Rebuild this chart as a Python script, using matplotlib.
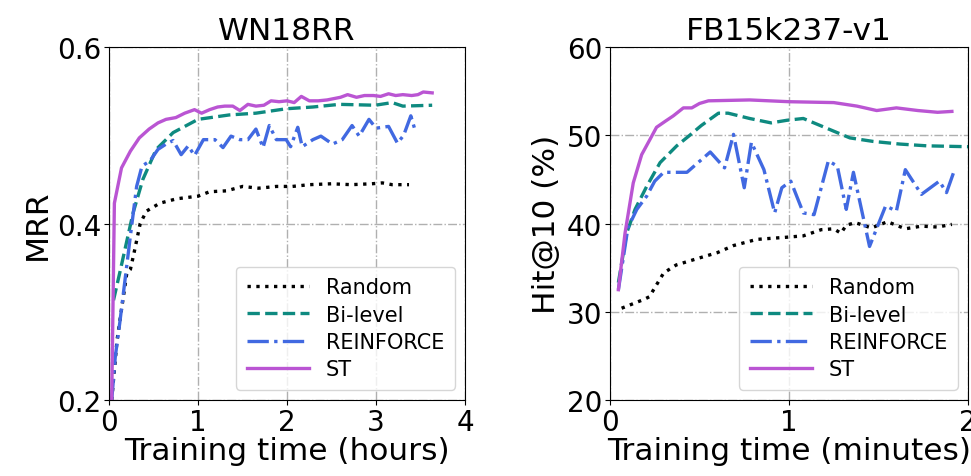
import matplotlib
matplotlib.use("Agg")
import matplotlib.pyplot as plt

# ---------------- WN18RR (hours, MRR) ----------------
wn_random_x = [0.03, 0.09, 0.20, 0.24, 0.29, 0.35, 0.42, 0.57, 0.76, 1.00, 1.13, 1.32, 1.50,
               1.68, 1.88, 2.06, 2.25, 2.50, 2.72, 2.95, 3.07, 3.18, 3.37]
wn_random_y = [0.20, 0.268, 0.344, 0.348, 0.371, 0.400, 0.414, 0.423, 0.428, 0.431, 0.436, 0.437,
               0.442, 0.440, 0.442, 0.442, 0.444, 0.445, 0.444, 0.445, 0.446, 0.444, 0.444]

wn_bilevel_x = [0.05, 0.12, 0.27, 0.38, 0.53, 0.72, 1.00, 1.35, 1.65, 1.99, 2.29, 2.59, 2.99,
                3.18, 3.30, 3.63]
wn_bilevel_y = [0.313, 0.344, 0.412, 0.450, 0.484, 0.503, 0.518, 0.523, 0.525, 0.530, 0.532,
                0.535, 0.534, 0.537, 0.533, 0.534]

wn_reinforce_x = [0.03, 0.07, 0.12, 0.235, 0.31, 0.37, 0.46, 0.55, 0.64, 0.72, 0.81, 0.89, 0.96,
                  1.06, 1.19, 1.28, 1.37, 1.47, 1.56, 1.65, 1.73, 1.80, 1.88, 1.99, 2.04, 2.12,
                  2.17, 2.29, 2.38, 2.51, 2.62, 2.73, 2.81, 2.92, 3.00, 3.14, 3.24, 3.31, 3.39, 3.44]
wn_reinforce_y = [0.20, 0.249, 0.287, 0.382, 0.442, 0.465, 0.471, 0.484, 0.490, 0.494, 0.478,
                  0.488, 0.477, 0.495, 0.495, 0.486, 0.499, 0.495, 0.495, 0.507, 0.486, 0.511,
                  0.495, 0.495, 0.487, 0.509, 0.487, 0.495, 0.499, 0.490, 0.495, 0.511, 0.499,
                  0.518, 0.508, 0.510, 0.491, 0.500, 0.522, 0.505]

wn_st_x = [0.03, 0.06, 0.14, 0.24, 0.34, 0.45, 0.55, 0.64, 0.75, 0.85, 0.96, 1.04, 1.13, 1.22,
           1.30, 1.39, 1.47, 1.56, 1.65, 1.74, 1.82, 1.91, 2.00, 2.08, 2.16, 2.25, 2.35, 2.45,
           2.55, 2.60, 2.68, 2.78, 2.87, 2.97, 3.05, 3.14, 3.22, 3.30, 3.40, 3.47, 3.53, 3.63]
wn_st_y = [0.20, 0.423, 0.463, 0.482, 0.497, 0.507, 0.514, 0.518, 0.520, 0.525, 0.529, 0.525,
           0.529, 0.532, 0.533, 0.533, 0.528, 0.535, 0.533, 0.534, 0.539, 0.538, 0.539, 0.537,
           0.544, 0.539, 0.539, 0.540, 0.542, 0.543, 0.546, 0.543, 0.545, 0.545, 0.544, 0.547,
           0.545, 0.546, 0.545, 0.546, 0.549, 0.548]

# ---------------- FB15k237-v1 (minutes, Hit@10) ----------------
fb_random_x = [0.065, 0.19, 0.22, 0.30, 0.37, 0.50, 0.60, 0.69, 0.82, 0.99, 1.08, 1.18, 1.25,
               1.29, 1.32, 1.37, 1.46, 1.55, 1.65, 1.74, 1.83, 1.91]
fb_random_y = [30.4, 31.4, 31.7, 34.4, 35.3, 36.1, 36.7, 37.5, 38.2, 38.45, 38.6, 39.3, 39.4,
               38.9, 39.8, 40.1, 39.5, 40.2, 39.4, 39.7, 39.6, 39.9]

fb_bilevel_x = [0.047, 0.093, 0.14, 0.205, 0.28, 0.373, 0.44, 0.51, 0.606, 0.66, 0.78, 0.90,
                0.99, 1.08, 1.21, 1.34, 1.47, 1.62, 1.77, 2.00]
fb_bilevel_y = [33.3, 38.9, 41.6, 44.2, 46.9, 48.8, 49.9, 51.1, 52.5, 52.5, 51.9, 51.4, 51.7,
                51.9, 50.8, 49.7, 49.3, 49.0, 48.8, 48.7]

fb_reinforce_x = [0.047, 0.10, 0.15, 0.205, 0.25, 0.30, 0.43, 0.56, 0.64, 0.69, 0.75, 0.79,
                  0.86, 0.92, 0.96, 1.01, 1.08, 1.14, 1.22, 1.27, 1.32, 1.36, 1.45, 1.54, 1.60,
                  1.65, 1.74, 1.84, 1.88, 1.92]
fb_reinforce_y = [32.5, 39.5, 41.6, 43.1, 44.8, 45.8, 45.8, 48.1, 46.3, 50.1, 44.05, 49.2, 46.1,
                  41.2, 44.05, 44.8, 41.2, 41.0, 47.1, 46.5, 41.6, 45.8, 37.4, 42.0, 41.4,
                  46.1, 43.3, 44.8, 43.5, 45.8]

fb_st_x = [0.047, 0.084, 0.13, 0.177, 0.22, 0.26, 0.31, 0.354, 0.41, 0.457, 0.50, 0.55, 0.78,
           1.00, 1.25, 1.38, 1.49, 1.60, 1.72, 1.83, 1.91]
fb_st_y = [32.5, 38.9, 44.6, 47.8, 49.4, 50.9, 51.6, 52.2, 53.1, 53.1, 53.6, 53.9, 54.0, 53.8,
           53.7, 53.3, 52.8, 53.1, 52.8, 52.6, 52.7]

labels = ["Random", "Bi-level", "REINFORCE", "ST"]
colors = ["black", "#0e8a80", "royalblue", "mediumorchid"]
styles = [":", "--", "-.", "-"]

fig = plt.figure(figsize=(9.71, 4.77), dpi=100)
ax1 = fig.add_axes([0.1123, 0.1593, 0.3667, 0.7401])
ax2 = fig.add_axes([0.6282, 0.1593, 0.3687, 0.7401])

wn = [(wn_random_x, wn_random_y), (wn_bilevel_x, wn_bilevel_y),
      (wn_reinforce_x, wn_reinforce_y), (wn_st_x, wn_st_y)]
fb = [(fb_random_x, fb_random_y), (fb_bilevel_x, fb_bilevel_y),
      (fb_reinforce_x, fb_reinforce_y), (fb_st_x, fb_st_y)]

for ax, data in ((ax1, wn), (ax2, fb)):
    for (x, y), lab, c, ls in zip(data, labels, colors, styles):
        ax.plot(x, y, ls, color=c, lw=2.4, label=lab)
    ax.grid(True, linestyle="-.", color="#b0b0b0", lw=1.0)
    ax.tick_params(labelsize=20, pad=2)
    leg = ax.legend(loc="lower right", fontsize=15, handlelength=3.0,
                    borderaxespad=0.5, labelspacing=0.35, borderpad=0.5)
    leg.get_frame().set_edgecolor("#cccccc")

ax1.set_xlim(0, 4)
ax1.set_ylim(0.2, 0.6)
ax1.set_xticks([0, 1, 2, 3, 4])
ax1.set_yticks([0.2, 0.4, 0.6])
ax1.set_title("WN18RR", fontsize=22.5)
ax1.set_xlabel("Training time (hours)", fontsize=22.5, labelpad=0)
ax1.set_ylabel("MRR", fontsize=22.5)

ax2.set_xlim(0, 2)
ax2.set_ylim(20, 60)
ax2.set_xticks([0, 1, 2])
ax2.set_yticks([20, 30, 40, 50, 60])
ax2.set_title("FB15k237-v1", fontsize=22.5)
ax2.set_xlabel("Training time (minutes)", fontsize=22.5, labelpad=0)
ax2.set_ylabel("Hit@10 (%)", fontsize=22.5)

fig.savefig("out.png", dpi=100)
